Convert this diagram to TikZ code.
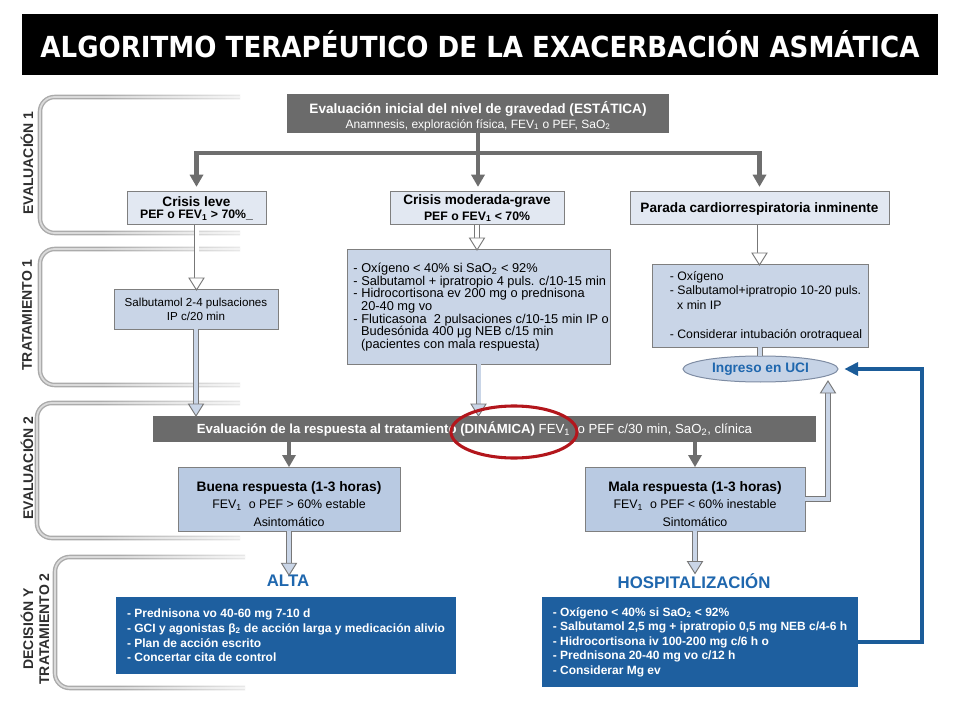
\documentclass[tikz,border=0pt]{standalone}
\usepackage{fontspec}
\usepackage{graphicx}
\setmainfont{Liberation Sans}
\newfontfamily\titlefont{DejaVu Sans}
\usetikzlibrary{arrows.meta,calc,shapes.geometric,fadings}
\definecolor{bargray}{HTML}{6B6B6B}
\definecolor{conngray}{HTML}{6E6E6E}
\definecolor{boxline}{HTML}{7F7F7F}
\definecolor{lightA}{HTML}{E2E8F2}
\definecolor{lightB}{HTML}{C9D5E7}
\definecolor{lightC}{HTML}{B9CAE2}
\definecolor{ellfill}{HTML}{C6D3E6}
\definecolor{ellline}{HTML}{7E8CA3}
\definecolor{hline}{HTML}{777777}
\definecolor{darkblue}{HTML}{1E5F9F}
\definecolor{titleblue}{HTML}{1F67AE}
\definecolor{arrowblue}{HTML}{1B5C99}
\definecolor{ringred}{HTML}{B3161C}
\definecolor{brkA}{HTML}{ABABAB}
\definecolor{brkB}{HTML}{DADADA}
\definecolor{labelgray}{HTML}{2E2E2E}
\newcommand\myfs[2]{\fontsize{#1}{#2}\selectfont}
% hollow arrow: #1 fill, #2 start anchor, #3 target anchor
\newcommand\hollowdown[3]{%
  \draw[hshaft,double=#1] (#2) -- ($(#2 |- #3)+(0,-10)$);
  \filldraw[hhead,fill=#1] (#2 |- #3) -- ++(-7.5,-12) -- ++(15,0) -- cycle;}
\begin{document}
\begin{tikzpicture}[x=0.75pt,y=-0.75pt,
  every node/.style={inner sep=0pt,outer sep=0pt},
  sz/.style 2 args={minimum width=#1*0.75pt,minimum height=#2*0.75pt},
  boxA/.style={draw=boxline,line width=0.75pt,fill=lightA},
  boxB/.style={draw=boxline,line width=0.75pt,fill=lightB},
  boxC/.style={draw=boxline,line width=0.75pt,fill=lightC},
  darkbar/.style={fill=bargray,text=white},
  bluebox/.style={fill=darkblue,text=white,font=\bfseries\myfs{9}{11}},
  gconn/.style={draw=conngray,line width=3.2pt,-{Triangle[length=9pt,width=10.5pt,line width=0pt]}},
  hshaft/.style={draw=hline,line width=0.7pt,double distance=3pt},
  hhead/.style={draw=hline,line width=0.7pt,line join=miter},
  bluearrow/.style={draw=arrowblue,line width=3.4pt,-{Triangle[length=10pt,width=10.5pt,line width=0pt]}},
  brkout/.style={draw=brkA,line width=3.4pt,rounded corners=11pt},
  brkin/.style={draw=brkB,line width=1.3pt,rounded corners=11pt},
  brkfade/.style={fill=white,fill opacity=0.75,path fading=west},
  sidelabel/.style={rotate=90,font=\bfseries\myfs{10.5}{12},text=labelgray,align=center},
  bluetitle/.style={text=titleblue,font=\bfseries\myfs{12.6}{14}},
  ringstyle/.style={ellipse,draw=ringred,line width=2.3pt,minimum width=94.5pt,minimum height=39pt}
]
\useasboundingbox (0,0) rectangle (960,720);
\fill[white] (0,0) rectangle (960,720);

% title
\node[fill=black,text=white,sz={916}{61}] (title) at (480,44.5)
  {\titlefont\bfseries\myfs{21.75}{24}\scalebox{0.9}[1]{ALGORITMO TERAPÉUTICO DE LA EXACERBACIÓN ASMÁTICA}};

% side brackets
\foreach \t/\b/\l/\r in {97/233/40/240, 249/385/40/240, 403/538/37/240, 557/688/55/245}{
  \draw[brkout] (\r,\t) -- (\l,\t) -- (\l,\b) -- (\r,\b);
  \draw[brkin] (\r,\t) -- (\l,\t) -- (\l,\b) -- (\r,\b);
  \fill[brkfade] (\l+60,\t-4) rectangle (\r+2,\t+4);
  \fill[brkfade] (\l+60,\b-4) rectangle (\r+2,\b+4);
}
\node[sidelabel] (lab1) at (27,163) {EVALUACIÓN 1};
\node[sidelabel] (lab2) at (27,315) {TRATAMIENTO 1};
\node[sidelabel] (lab3) at (27,468) {EVALUACIÓN 2};
\node[sidelabel] (lab4) at (35,629) {DECISIÓN Y\\TRATAMIENTO 2};

% top box
\node[darkbar,sz={382}{39}] (top) at (478,113.5) {};
\node[align=center,text=white,font=\myfs{10.2}{11.2}] (toptxt) at (478,116)
  {\textbf{Evaluación inicial del nivel de gravedad (ESTÁTICA)}\\
   {\myfs{9}{11}Anamnesis, exploración física, FEV\textsubscript{1} o PEF, SaO\textsubscript{2}}};

% level 1 boxes
\node[boxA,align=center,sz={139}{33},font=\bfseries\myfs{10.2}{9}] (leve) at (196.5,208.5)
  {Crisis leve\\{\myfs{9.2}{9}PEF o FEV\textsubscript{1} > 70\%\_}};
\node[boxA,align=center,sz={174}{33},font=\bfseries\myfs{10.2}{11.5}] (modg) at (477,208.5)
  {Crisis moderada-grave\\{\myfs{9.2}{11.5}PEF o FEV\textsubscript{1} < 70\%}};
\node[boxA,sz={259}{33},font=\bfseries\myfs{10.2}{12}] (parada) at (759.5,208.5)
  {Parada cardiorrespiratoria inminente};

% treatment 1 boxes
\node[boxB,align=center,sz={164}{39},font=\myfs{8.7}{10.5}] (salb) at (196,309.5)
  {Salbutamol 2-4 pulsaciones\\IP c/20 min};
\node[boxB,align=left,sz={263}{114},font=\myfs{9.6}{9.5}] (mod) at (478.5,307)
  {\hspace*{4pt}- Oxígeno < 40\% si SaO\textsubscript{2} < 92\%\\
   \hspace*{4pt}- Salbutamol + ipratropio 4 puls. c/10-15 min\\
   \hspace*{4pt}- Hidrocortisona ev 200 mg o prednisona\\
   \hspace*{4pt}\hspace*{0.6em}20-40 mg vo\\
   \hspace*{4pt}- Fluticasona\ \ 2 pulsaciones c/10-15 min IP o\\
   \hspace*{4pt}\hspace*{0.6em}Budesónida 400 μg NEB c/15 min\\
   \hspace*{4pt}\hspace*{0.6em}(pacientes con mala respuesta)};
\node[boxB,align=left,sz={216}{82},font=\myfs{9.2}{10.9}] (parada2) at (760,306)
  {\hspace*{9pt}- Oxígeno\\
   \hspace*{9pt}- Salbutamol+ipratropio 10-20 puls.\\
   \hspace*{9pt}\hspace*{0.6em}x min IP\\[10.9pt]
   \hspace*{9pt}- Considerar intubación orotraqueal};
\node[ellipse,draw=ellline,fill=ellfill,line width=0.75pt,minimum width=116.25pt,minimum height=19.5pt,
      text=titleblue,font=\bfseries\myfs{10.3}{12}] (uci) at (760.5,369) {Ingreso en UCI};

% evaluation 2 bar
\node[darkbar,sz={663}{26},font=\myfs{9.9}{12}] (evalbar) at (484.5,429)
  {\textbf{Evaluación de la respuesta al tratamiento (DINÁMICA)} FEV\textsubscript{1}\ \ o PEF c/30 min, SaO\textsubscript{2}, clínica\hspace*{15pt}};

\node[boxC,sz={222}{64}] (buena) at (289,499) {};
\node[align=center,font=\myfs{9.3}{13.3}] (buenatxt) at (289,504)
  {{\bfseries\myfs{10.3}{13}Buena respuesta (1-3 horas)}\\
   FEV\textsubscript{1}\ \ o PEF > 60\% estable\\
   Asintomático};
\node[boxC,sz={220}{64}] (mala) at (695,499) {};
\node[align=center,font=\myfs{9.3}{13.3}] (malatxt) at (695,504)
  {{\bfseries\myfs{10.3}{13}Mala respuesta (1-3 horas)}\\
   FEV\textsubscript{1}\ \ o PEF < 60\% inestable\\
   Sintomático};

% decision
\node[bluetitle] (alta) at (288,581) {ALTA};
\node[bluetitle] (hospt) at (694,581) {HOSPITALIZACIÓN};
\node[bluebox,align=left,sz={340}{77}] (altabox) at (286,635.5)
  {- Prednisona vo 40-60 mg 7-10 d\\
   - GCI y agonistas β\textsubscript{2} de acción larga y medicación alivio\\
   - Plan de acción escrito\\
   - Concertar cita de control};
\node[bluebox,align=left,sz={316}{90},font=\bfseries\myfs{9}{10.9}] (hosp) at (700,642)
  {- Oxígeno < 40\% si SaO\textsubscript{2} < 92\%\\
   - Salbutamol 2,5 mg + ipratropio 0,5 mg NEB c/4-6 h\\
   - Hidrocortisona iv 100-200 mg c/6 h o\\
   - Prednisona 20-40 mg vo c/12 h\\
   - Considerar Mg ev\hspace*{0pt}};

% gray connectors from top box
\coordinate (split) at ($(top.south)+(0,20)$);
\draw[gconn,shorten >=4pt] (top.south) -- (top.south |- modg.north);
\draw[gconn,shorten >=4pt] (split) -| (leve.north);
\draw[gconn,shorten >=4pt] (split) -| (parada.north);

% hollow arrows
\hollowdown{white}{leve.south}{salb.north}
\hollowdown{white}{modg.south}{mod.north}
\hollowdown{white}{parada.south}{parada2.north}
\hollowdown{lightB}{salb.south}{evalbar.north}
\hollowdown{lightB}{mod.south}{evalbar.north}
\draw[hshaft,double=lightB] (parada2.south) -- (parada2.south |- uci.north);
\hollowdown{lightB}{buena.south}{alta.north}
\hollowdown{lightB}{mala.south}{hospt.north}

% mala -> UCI
\coordinate (ucitip) at (828,381);
\draw[hshaft,double=lightB] (mala.east) -| ($(ucitip)+(0,10)$);
\filldraw[hhead,fill=lightB] (ucitip) -- ++(-7.5,12) -- ++(15,0) -- cycle;

% eval bar -> responses
\draw[gconn] (buena.north |- evalbar.south) -- (buena.north);
\draw[gconn] (mala.north |- evalbar.south) -- (mala.north);

% hospital -> UCI
\draw[bluearrow,shorten >=5pt] (hosp.east) -- ++(64,0) |- (uci.east);

% red ring
\node[ringstyle] (ring) at (514,432) {};
\end{tikzpicture}
\end{document}
